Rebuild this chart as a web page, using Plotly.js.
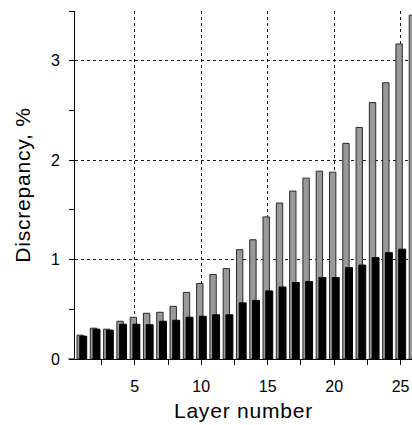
<!DOCTYPE html>
<html>
<head>
<meta charset="utf-8">
<script src="https://cdn.plot.ly/plotly-3.0.1.min.js"></script>
<style>
  html, body { margin: 0; padding: 0; background: #fff; }
  #chart { width: 412px; height: 425px; }
  .g-xtitle text, .g-ytitle text { letter-spacing: 0.8px; }
</style>
</head>
<body>
<div id="chart"></div>
<script>
// Layer indices
const layers = [1, 2, 3, 4, 5, 6, 7, 8, 9, 10, 11, 12, 13, 14, 15, 16, 17, 18, 19, 20, 21, 22, 23, 24, 25, 26];

// Discrepancy per layer, % (grey series)
const discrepancyGrey = [0.24, 0.31, 0.30, 0.38, 0.42, 0.46, 0.47, 0.53, 0.67, 0.76,
  0.85, 0.91, 1.10, 1.20, 1.43, 1.57, 1.69, 1.82, 1.89, 1.88,
  2.17, 2.33, 2.58, 2.78, 3.17, 3.46];

// Discrepancy per layer, % (black series)
const discrepancyBlack = [0.23, 0.30, 0.29, 0.35, 0.35, 0.345, 0.38, 0.39, 0.42, 0.43,
  0.445, 0.445, 0.565, 0.59, 0.685, 0.725, 0.77, 0.78, 0.82, 0.82,
  0.92, 0.945, 1.02, 1.07, 1.105];

const yTicks = [0, 1, 2, 3];
const yMinorTicks = [0.5, 1.5, 2.5, 3.5];
const xTicks = [5, 10, 15, 20, 25];
const xMinorTicks = [2.5, 7.5, 12.5, 17.5, 22.5];

const FONT = '"Liberation Sans", Arial, Helvetica, sans-serif';

const traces = [
  {
    type: 'bar',
    x: layers,
    y: discrepancyGrey,
    offset: -0.35,
    width: 0.48,
    marker: { color: '#999999', line: { color: '#2a2a2a', width: 1 } },
    hoverinfo: 'none'
  },
  {
    type: 'bar',
    x: layers,
    y: discrepancyBlack,
    offset: -0.14,
    width: 0.52,
    marker: { color: '#000000', line: { color: '#000000', width: 1 } },
    hoverinfo: 'none'
  }
];

const layout = {
  width: 412,
  height: 425,
  margin: { l: 75, r: 0, t: 11, b: 66, pad: 0 },
  paper_bgcolor: '#ffffff',
  plot_bgcolor: '#ffffff',
  showlegend: false,
  barmode: 'overlay',
  font: { family: FONT, size: 16, color: '#000' },
  xaxis: {
    range: [0.5, 25.86],
    tickmode: 'array',
    tickvals: xTicks,
    ticktext: xTicks.map(String),
    ticks: 'outside',
    ticklen: 5,
    tickwidth: 1,
    tickcolor: '#000',
    ticklabelstandoff: 8,
    minor: { tickmode: 'array', tickvals: xMinorTicks, ticks: 'outside', ticklen: 5, tickwidth: 1, tickcolor: '#000', showgrid: false },
    showline: true,
    linecolor: '#000',
    linewidth: 1,
    showgrid: true,
    gridcolor: '#1a1a1a',
    gridwidth: 1,
    griddash: '3px,3px',
    zeroline: false,
    tickfont: { family: FONT, size: 16, color: '#000' },
    title: { text: 'Layer number', font: { family: FONT, size: 21, color: '#000' }, standoff: 9 }
  },
  yaxis: {
    range: [0, 3.502],
    tickmode: 'array',
    tickvals: yTicks,
    ticktext: yTicks.map(String),
    ticks: 'outside',
    ticklen: 5,
    tickwidth: 1,
    tickcolor: '#000',
    ticklabelstandoff: 6,
    minor: { tickmode: 'array', tickvals: yMinorTicks, ticks: 'outside', ticklen: 5, tickwidth: 1, tickcolor: '#000', showgrid: false },
    showline: true,
    linecolor: '#000',
    linewidth: 1,
    showgrid: true,
    gridcolor: '#1a1a1a',
    gridwidth: 1,
    griddash: '3px,3px',
    zeroline: false,
    tickfont: { family: FONT, size: 16, color: '#000' },
    title: { text: 'Discrepancy, %', font: { family: FONT, size: 21, color: '#000' }, standoff: 14 }
  },
  shapes: [
    // baseline continues a little to the left of the value axis
    { type: 'line', xref: 'paper', yref: 'paper', x0: -0.0197, x1: 0, y0: 0, y1: 0,
      line: { color: '#000', width: 1 } }
  ]
};

Plotly.newPlot('chart', traces, layout, { staticPlot: true, displayModeBar: false });
</script>
</body>
</html>
